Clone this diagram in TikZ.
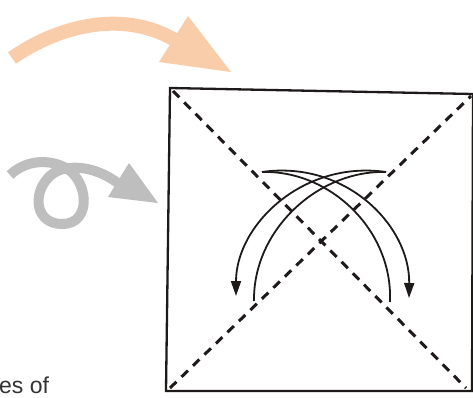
\documentclass[tikz,border=0pt]{standalone}
\usepackage{fontspec}
\setmainfont{Liberation Sans}
\usetikzlibrary{arrows.meta}
\definecolor{peach}{RGB}{250,205,170}
\definecolor{lgray}{RGB}{190,190,190}
\definecolor{ink}{RGB}{30,26,26}
\tikzset{
  sqedge/.style={draw=ink, line width=2.3pt},
  diag/.style={draw=ink, line width=3pt, dash pattern=on 9pt off 7pt},
  foldarc/.style={draw=ink, line width=1.8pt},
  foldarrow/.style={foldarc, -{Triangle[length=15pt,width=10pt]}},
  bigstroke/.style={line width=#1, line cap=butt},
}
\begin{document}
\begin{tikzpicture}[x=1pt,y=-1pt]
\useasboundingbox (0,0) rectangle (473,398);
\fill[white] (0,0) rectangle (473,398);
% corners of the square
\coordinate (TL) at (170,88);
\coordinate (TR) at (473,94);
\coordinate (BR) at (472,391);
\coordinate (BL) at (166,391);
\draw[sqedge] (TL) -- (TR) -- (BR) -- (BL) -- cycle;
% diagonals
\coordinate (d1s) at (173,91);
\coordinate (d1e) at (466,388);
\coordinate (d2s) at (170,388);
\coordinate (d2e) at (471,96);
\draw[diag] (d1s) -- (d1e);
\draw[diag] (d2s) -- (d2e);
% fold arcs
\coordinate (ls) at (262,172);
\coordinate (rs) at (386,172);
\coordinate (la) at (236,296);
\coordinate (le) at (254,301);
\coordinate (ra) at (409,298);
\coordinate (re) at (390,302);
\draw[foldarrow] (ls) .. controls (345,160) and (410,225) .. (ra);
\draw[foldarc] (ls) .. controls (330,170) and (393,230) .. (re);
\draw[foldarrow] (rs) .. controls (303,160) and (236,225) .. (la);
\draw[foldarc] (rs) .. controls (318,170) and (253,230) .. (le);
% peach arrow
\coordinate (p0) at (12,58);
\coordinate (pb) at (175,40);
\draw[peach, bigstroke=14pt] (p0) .. controls (55,28) and (120,8) .. (pb);
\fill[peach] (188,16) -- (231,72) -- (159,62) -- cycle;
% gray loop arrow
\coordinate (g0) at (10,175);
\coordinate (gb) at (119,184);
\draw[lgray, bigstroke=10pt] (g0) .. controls (25,161) and (45,159) .. (62,166)
  .. controls (88,176) and (94,224) .. (62,224)
  .. controls (36,224) and (32,195) .. (48,178)
  .. controls (62,162) and (95,165) .. (gb);
\fill[lgray] (129,163) -- (158,203) -- (108,197) -- cycle;
% cropped caption text
\node[anchor=base west, inner sep=0pt, text=black!80, font=\fontsize{23}{23}\selectfont] (cap) at (-1,393) {es of};
\end{tikzpicture}
\end{document}
